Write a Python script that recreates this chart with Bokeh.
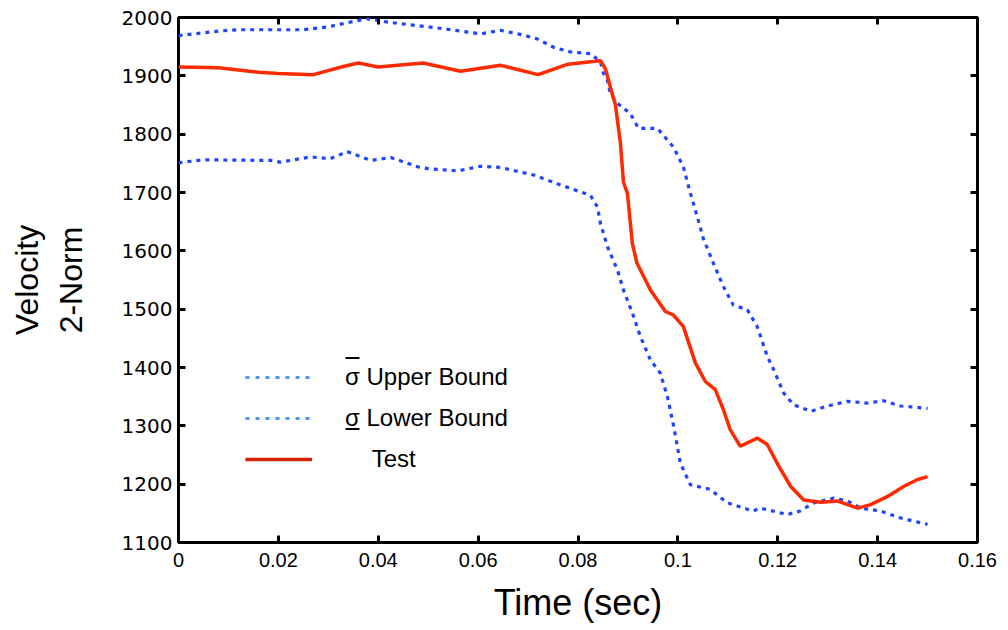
from bokeh.plotting import figure
from bokeh.models import (Range1d, FixedTicker, LinearAxis, Legend, LegendItem,
                          BoxAnnotation)
from bokeh.embed import file_html
from bokeh.resources import INLINE

# ---------------- data ----------------
t_test = [0, 0.008, 0.016, 0.020, 0.027, 0.033, 0.036, 0.040, 0.045, 0.049,
          0.0565, 0.0645, 0.072, 0.078, 0.0835, 0.0845, 0.0855, 0.0865, 0.0875,
          0.0885, 0.0891, 0.0899, 0.0909, 0.0918, 0.0945, 0.0975, 0.0991,
          0.1011, 0.1035, 0.1055, 0.1075, 0.1091, 0.1105, 0.1125, 0.1159,
          0.1179, 0.1202, 0.1226, 0.1252, 0.1286, 0.1320, 0.1360, 0.1386,
          0.1420, 0.1452, 0.1480, 0.1500]
v_test = [1915, 1914, 1906, 1904, 1902, 1916, 1922, 1915, 1919, 1922,
          1908, 1918, 1902, 1920, 1925, 1926, 1912, 1880, 1850,
          1784, 1718, 1698, 1612, 1579, 1533, 1496, 1490,
          1470, 1408, 1376, 1362, 1328, 1293, 1265, 1279,
          1268, 1231, 1196, 1173, 1169, 1171, 1159, 1165,
          1179, 1196, 1208, 1213]

t_upper = [0, 0.0084, 0.0118, 0.025, 0.030, 0.0338, 0.0378, 0.0419, 0.0479,
           0.0519, 0.0605, 0.0645, 0.069, 0.0719, 0.0751, 0.0785, 0.0825,
           0.0845, 0.0851, 0.0859, 0.0865, 0.0879, 0.0905, 0.0921, 0.0959,
           0.0991, 0.1011, 0.1025, 0.1039, 0.1051, 0.1071, 0.1091, 0.1111,
           0.1139, 0.1159, 0.1179, 0.1192, 0.1212, 0.1232, 0.1266, 0.1300,
           0.1340, 0.1380, 0.1412, 0.1446, 0.1500]
v_upper = [1969, 1977, 1979, 1979, 1984, 1991, 1998, 1992, 1986,
           1982, 1972, 1978, 1970, 1963, 1949, 1941, 1938,
           1924, 1904, 1892, 1869, 1853, 1835, 1810, 1810,
           1778, 1744, 1699, 1658, 1621, 1579, 1539, 1507,
           1499, 1470, 1419, 1396, 1356, 1336, 1325, 1334,
           1342, 1339, 1343, 1334, 1330]

t_lower = [0, 0.005, 0.0184, 0.0204, 0.0264, 0.0304, 0.0338, 0.0385, 0.0425,
           0.0479, 0.0499, 0.0559, 0.0605, 0.0645, 0.0711, 0.0765, 0.0825,
           0.0839, 0.0845, 0.0859, 0.0879, 0.0891, 0.0909, 0.0925, 0.0945,
           0.0965, 0.0979, 0.0991, 0.1005, 0.1025, 0.1065, 0.1099, 0.1151,
           0.1165, 0.1219, 0.1245, 0.1272, 0.1312, 0.1340, 0.1366, 0.1406,
           0.1446, 0.1500]
v_lower = [1751, 1756, 1755, 1752, 1761, 1758, 1770, 1755, 1760,
           1744, 1741, 1737, 1745, 1743, 1730, 1713, 1695,
           1675, 1647, 1607, 1567, 1533, 1493, 1453, 1413,
           1390, 1350, 1302, 1236, 1199, 1191, 1168, 1154,
           1159, 1148, 1154, 1168, 1176, 1171, 1159, 1154,
           1142, 1131]

x_ticks = [0, 0.02, 0.04, 0.06, 0.08, 0.1, 0.12, 0.14, 0.16]
x_tick_labels = ["0", "0.02", "0.04", "0.06", "0.08", "0.1", "0.12", "0.14", "0.16"]
y_ticks = [1100, 1200, 1300, 1400, 1500, 1600, 1700, 1800, 1900, 2000]

legend_labels = ["\u03c3 Upper Bound", "\u03c3 Lower Bound",
                 "\u00a0\u00a0\u00a0\u00a0Test"]

# ---------------- styling ----------------
SANS = "Liberation Sans"
BLUE = "#1f45ff"
LEG_BLUE = "#4f9ae6"
RED = "#ff2a00"
LEG_RED = "#d42000"
NAN = float("nan")

p = figure(width=1000, height=625, output_backend="svg", toolbar_location=None,
           x_range=Range1d(0, 0.16), y_range=Range1d(1100, 2000),
           min_border_left=178, min_border_right=23, min_border_top=17,
           min_border_bottom=82)
p.background_fill_color = "white"
p.border_fill_color = "white"
p.outline_line_color = "black"
p.outline_line_width = 3
p.grid.visible = False

r_up = p.line(t_upper, v_upper, line_color=BLUE, line_width=3.2,
              line_dash="4 5", line_cap="butt")
r_lo = p.line(t_lower, v_lower, line_color=BLUE, line_width=3.2,
              line_dash="4 5", line_cap="butt")
r_te = p.line(t_test, v_test, line_color=RED, line_width=3.5)

# legend proxies (one NaN point, never drawn) with the legend's lighter colours
l_up = p.line([NAN], [NAN], line_color=LEG_BLUE, line_width=3.2, line_dash="4 6")
l_lo = p.line([NAN], [NAN], line_color=LEG_BLUE, line_width=3.2, line_dash="4 6")
l_te = p.line([NAN], [NAN], line_color=LEG_RED, line_width=3.5)

legend = Legend(items=[LegendItem(label=legend_labels[0], renderers=[l_up]),
                       LegendItem(label=legend_labels[1], renderers=[l_lo]),
                       LegendItem(label=legend_labels[2], renderers=[l_te])],
                location=(67, 68), glyph_width=67, glyph_height=30,
                label_height=30, spacing=11, label_standoff=33,
                padding=0, margin=0, border_line_color=None,
                background_fill_alpha=0, label_text_font=SANS,
                label_text_font_size="24px", label_text_color="black")
p.add_layout(legend, "center")

# over-bar (upper) and under-bar (lower) of the sigma symbols in the legend
for top_, bot_ in ((185.5, 183.5), (114.5, 112.5)):
    p.add_layout(BoxAnnotation(left=167, right=181, top=top_, bottom=bot_,
                               left_units="screen", right_units="screen",
                               top_units="screen", bottom_units="screen",
                               fill_color="black", fill_alpha=1,
                               line_color=None))

# bottom axis
xa = p.xaxis[0]
xa.ticker = FixedTicker(ticks=x_ticks)
xa.major_label_overrides = dict(zip(x_ticks, x_tick_labels))
xa.axis_label = "Time (sec)"
xa.axis_label_text_font = SANS
xa.axis_label_text_font_size = "36px"
xa.axis_label_text_font_style = "normal"
xa.axis_label_standoff = 12
xa.major_label_text_font = SANS
xa.major_label_text_font_size = "20px"
xa.major_label_standoff = 10

# left axis
ya = p.yaxis[0]
ya.ticker = FixedTicker(ticks=y_ticks)
ya.axis_label = "Velocity\n2-Norm"
ya.axis_label_text_font = SANS
ya.axis_label_text_font_size = "32px"
ya.axis_label_text_font_style = "normal"
ya.axis_label_standoff = 30
ya.major_label_text_font = "DejaVu Sans"
ya.major_label_text_font_size = "20px"
ya.major_label_standoff = 6

for ax in (xa, ya):
    ax.axis_line_color = None
    ax.major_tick_in = 7
    ax.major_tick_out = 0
    ax.major_tick_line_width = 3
    ax.major_tick_line_color = "black"
    ax.minor_tick_line_color = None
    ax.major_label_text_color = "black"
    ax.axis_label_text_color = "black"

# top and right axes: inward ticks only (box style), no labels
top = LinearAxis(ticker=FixedTicker(ticks=x_ticks),
                 major_label_overrides={t: "" for t in x_ticks},
                 axis_line_color=None, major_tick_in=7, major_tick_out=0,
                 major_tick_line_width=3, minor_tick_line_color=None,
                 major_label_standoff=0)
right = LinearAxis(ticker=FixedTicker(ticks=y_ticks),
                   major_label_overrides={t: "" for t in y_ticks},
                   axis_line_color=None, major_tick_in=7, major_tick_out=0,
                   major_tick_line_width=3, minor_tick_line_color=None,
                   major_label_standoff=0)
p.add_layout(top, "above")
p.add_layout(right, "right")

open("out.html", "w").write(file_html(p, INLINE))
